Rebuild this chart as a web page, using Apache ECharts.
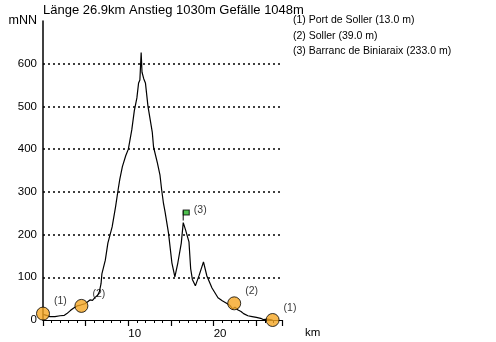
<!DOCTYPE html>
<html>
<head>
<meta charset="utf-8">
<script src="https://cdn.jsdelivr.net/npm/echarts@6/dist/echarts.min.js"></script>
<style>html,body{margin:0;padding:0;background:#fff}#c{width:496px;height:342px}</style>
</head>
<body>
<div id="c"></div>
<script>
var titleText = 'Länge 26.9km Anstieg 1030m Gefälle 1048m';
var legendLines = ['(1) Port de Soller (13.0 m)', '(2) Soller (39.0 m)', '(3) Barranc de Biniaraix (233.0 m)'];
var km =   [0, 0.4, 0.8, 1.4, 2.0, 2.5, 2.8, 3.2, 3.6, 4.0, 4.4, 4.9, 5.2, 5.5, 5.8, 6.1, 6.4, 6.6, 6.8, 6.9, 7.0, 7.3, 7.6, 8.1, 8.5, 8.8, 9.0, 9.3, 9.7, 10.0, 10.4, 10.7, 11.0, 11.2, 11.35, 11.5, 11.6, 11.8, 12.0, 12.3, 12.8, 12.95, 13.4, 13.7, 13.9, 14.1, 14.3, 14.7, 15.1, 15.45, 15.8, 16.2, 16.43, 16.7, 17.1, 17.3, 17.5, 17.85, 18.3, 18.8, 19.2, 19.8, 20.5, 21.0, 21.6, 21.9, 22.2, 22.5, 22.8, 23.2, 23.5, 24.0, 24.5, 25.0, 25.5, 25.8, 26.3, 26.9];
var elev = [13, 11, 8, 8, 10, 11, 15, 22, 28, 33, 35, 38, 42, 47, 46, 53, 58, 66, 85, 108, 112, 140, 180, 218, 265, 305, 330, 359, 385, 400, 445, 490, 520, 555, 562, 626, 580, 565, 555, 500, 440, 405, 368, 340, 305, 275, 253, 204, 134, 101, 134, 180, 228, 211, 183, 120, 95, 80, 105, 136, 103, 75, 52, 45, 38, 34, 26, 30, 24, 20, 15, 10, 8, 6, 4, 1, 2, 0];
var markerKm = [0, 4.5, 22.4, 26.9];
var markerElev = [15, 33, 39, 0];
var markerLabels = ['(1)', '(2)', '(2)', '(1)'];
var flagKm = [16.43];
var flagElev = [233];
var flagLabels = ['(3)'];
var xTickLabels = [10, 20];

var FONT = 'Liberation Sans, Arial, Helvetica, sans-serif';
var profile = km.map(function (k, i) { return [k, elev[i]]; });
var markers = markerKm.map(function (k, i) { return { value: [k, markerElev[i]], label: { formatter: markerLabels[i] } }; });
var flags = flagKm.map(function (k, i) { return { value: [k, flagElev[i]], label: { formatter: flagLabels[i] } }; });

var chart = echarts.init(document.getElementById('c'), null, { renderer: 'canvas' });
chart.setOption({
  animation: false,
  backgroundColor: '#fff',
  title: {
    text: titleText, left: 43, top: 4, padding: 0,
    textStyle: { fontFamily: FONT, fontSize: 13, fontWeight: 'normal', color: '#000' }
  },
  graphic: legendLines.map(function (t, i) {
    return { type: 'text', left: 293, top: 15 + i * 15.5, style: { text: t, font: '10.5px ' + FONT, fill: '#000' } };
  }),
  grid: { left: 43, right: 214, top: 21, bottom: 22 },
  xAxis: {
    type: 'value', min: 0, max: 28, interval: 5,
    name: 'km', nameLocation: 'end', nameGap: 23,
    nameTextStyle: { fontFamily: FONT, fontSize: 11.5, color: '#000', verticalAlign: 'top', padding: [7, 0, 0, 0] },
    axisLine: { show: true, lineStyle: { color: '#000', width: 1.2 } },
    axisTick: { show: true, length: 6, lineStyle: { color: '#000', width: 1.2 } },
    minorTick: { show: true, splitNumber: 5, length: 3, lineStyle: { color: '#000', width: 1 } },
    axisLabel: {
      fontFamily: FONT, fontSize: 11.5, color: '#000', align: 'left', margin: 8,
      formatter: function (v) { return xTickLabels.indexOf(v) >= 0 ? String(v) : ''; }
    },
    splitLine: { show: false }
  },
  yAxis: {
    type: 'value', min: 0, max: 700, interval: 100,
    name: 'mNN', nameLocation: 'end', nameGap: 0,
    nameTextStyle: { fontFamily: FONT, fontSize: 12.5, color: '#000', align: 'right', verticalAlign: 'middle', padding: [0, 6, 0, 0] },
    axisLine: { show: true, lineStyle: { color: '#000', width: 1.5 } },
    axisTick: { show: false },
    axisLabel: { fontFamily: FONT, fontSize: 11.5, color: '#000', margin: 6, showMaxLabel: false },
    splitLine: { show: true, showMinLine: false, showMaxLine: false, lineStyle: { color: '#000', width: 1.5, type: [2, 3] } }
  },
  series: [
    {
      type: 'line', data: profile, showSymbol: false, symbol: 'none',
      lineStyle: { color: '#000', width: 1.2 }, z: 3
    },
    {
      type: 'scatter', data: flags, symbol: 'rect', symbolSize: [1.2, 10], symbolOffset: [0, -5],
      itemStyle: { color: '#000' }, z: 4,
      label: { show: true, position: 'right', distance: 0, offset: [10, -5], fontFamily: FONT, fontSize: 10.5, color: '#000' }
    },
    {
      type: 'scatter', data: flagKm.map(function (k, i) { return [k, flagElev[i]]; }),
      symbol: 'rect', symbolSize: [6, 5], symbolOffset: [3, -8],
      itemStyle: { color: '#22b022', borderColor: '#000', borderWidth: 1 }, z: 5
    },
    {
      type: 'scatter', data: markers, symbol: 'circle', symbolSize: 13,
      itemStyle: { color: '#F5A623', borderColor: '#000', borderWidth: 1 }, z: 6,
      label: { show: true, position: 'right', distance: 4, offset: [0, -12], fontFamily: FONT, fontSize: 10.5, color: '#000' }
    }
  ]
});
</script>
</body>
</html>
